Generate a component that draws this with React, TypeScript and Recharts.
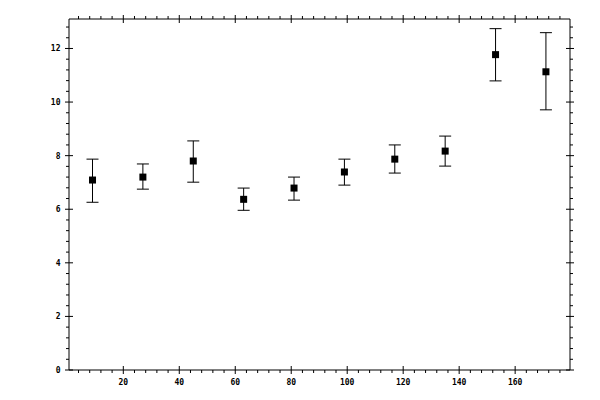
import React from 'react';
import { ScatterChart, Scatter, XAxis, YAxis, ErrorBar } from 'recharts';

// bin centres and measured values with asymmetric error limits
const xValues = [9, 27, 45, 63, 81, 99, 117, 135, 153, 171];
const yValues = [7.09, 7.2, 7.8, 6.37, 6.79, 7.39, 7.87, 8.17, 11.77, 11.13];
const yLower = [6.26, 6.75, 7.01, 5.96, 6.34, 6.9, 7.35, 7.61, 10.79, 9.71];
const yUpper = [7.87, 7.69, 8.55, 6.79, 7.2, 7.87, 8.4, 8.73, 12.74, 12.59];

const xMajor = [20, 40, 60, 80, 100, 120, 140, 160];
const yMajor = [0, 2, 4, 6, 8, 10, 12];

const xTicks = Array.from({ length: 44 }, (_, i) => (i + 1) * 4);
const yTicks = Array.from({ length: 33 }, (_, i) => +(i * 0.4).toFixed(1));

const data = xValues.map((x, i) => ({
  x,
  y: yValues[i],
  err: [+(yValues[i] - yLower[i]).toFixed(2), +(yUpper[i] - yValues[i]).toFixed(2)],
}));

const font = { fontFamily: '"DejaVu Sans Mono", monospace', fontSize: 8, fontWeight: 'bold' as const };

function XTick(props: any) {
  const { x, y, payload, side } = props;
  const v = payload.value;
  const major = xMajor.includes(v);
  const d = side === 'bottom' ? 1 : -1;
  return (
    <g>
      {major ? (
        <line x1={x} x2={x} y1={y - 4 * d} y2={y + 4 * d} stroke="#000" />
      ) : (
        <line x1={x} x2={x} y1={y} y2={y + 3 * d} stroke="#000" />
      )}
      {major && side === 'bottom' && (
        <text x={x} y={y + 14.5} textAnchor="middle" fill="#000" style={font}>
          {v}
        </text>
      )}
    </g>
  );
}

function YTick(props: any) {
  const { x, y, payload, side } = props;
  const v = payload.value;
  const major = yMajor.some((m) => Math.abs(m - v) < 1e-6);
  const d = side === 'left' ? -1 : 1;
  return (
    <g>
      {major ? (
        <line x1={x - 4 * d} x2={x + 4 * d} y1={y} y2={y} stroke="#000" />
      ) : (
        <line x1={x} x2={x + 3 * d} y1={y} y2={y} stroke="#000" />
      )}
      {major && side === 'left' && (
        <text x={x - 8.5} y={y + 3} textAnchor="end" fill="#000" style={font}>
          {v}
        </text>
      )}
    </g>
  );
}

const Square = (props: any) => (
  <rect x={props.cx - 3.5} y={props.cy - 3.5} width={7} height={7} fill="#000" />
);

const Empty = () => <g />;

export default function App() {
  return (
    <ScatterChart width={584} height={384} margin={{ top: 10, right: 21, bottom: 2, left: 0 }}>
      <XAxis
        xAxisId="b"
        dataKey="x"
        type="number"
        orientation="bottom"
        domain={[0.6, 179.6]}
        ticks={xTicks}
        interval={0}
        height={20}
        tickSize={0}
        tickMargin={0}
        tickLine={false}
        axisLine={{ stroke: '#000' }}
        tick={(p: any) => <XTick {...p} side="bottom" />}
      />
      <XAxis
        xAxisId="t"
        dataKey="x"
        type="number"
        orientation="top"
        domain={[0.6, 179.6]}
        ticks={xTicks}
        interval={0}
        height={1}
        tickSize={0}
        tickMargin={0}
        tickLine={false}
        axisLine={{ stroke: '#000' }}
        tick={(p: any) => <XTick {...p} side="top" />}
      />
      <YAxis
        yAxisId="l"
        dataKey="y"
        type="number"
        orientation="left"
        domain={[0, 13.1]}
        ticks={yTicks}
        interval={0}
        width={61}
        tickSize={0}
        tickMargin={0}
        tickLine={false}
        axisLine={{ stroke: '#000' }}
        tick={(p: any) => <YTick {...p} side="left" />}
      />
      <YAxis
        yAxisId="r"
        dataKey="y"
        type="number"
        orientation="right"
        domain={[0, 13.1]}
        ticks={yTicks}
        interval={0}
        width={1}
        tickSize={0}
        tickMargin={0}
        tickLine={false}
        axisLine={{ stroke: '#000' }}
        tick={(p: any) => <YTick {...p} side="right" />}
      />
      <Scatter data={data} xAxisId="t" yAxisId="r" shape={Empty} isAnimationActive={false} />
      <Scatter data={data} xAxisId="b" yAxisId="l" shape={Square} isAnimationActive={false}>
        <ErrorBar dataKey="err" direction="y" width={6} stroke="#000" strokeWidth={1} isAnimationActive={false} />
      </Scatter>
    </ScatterChart>
  );
}
